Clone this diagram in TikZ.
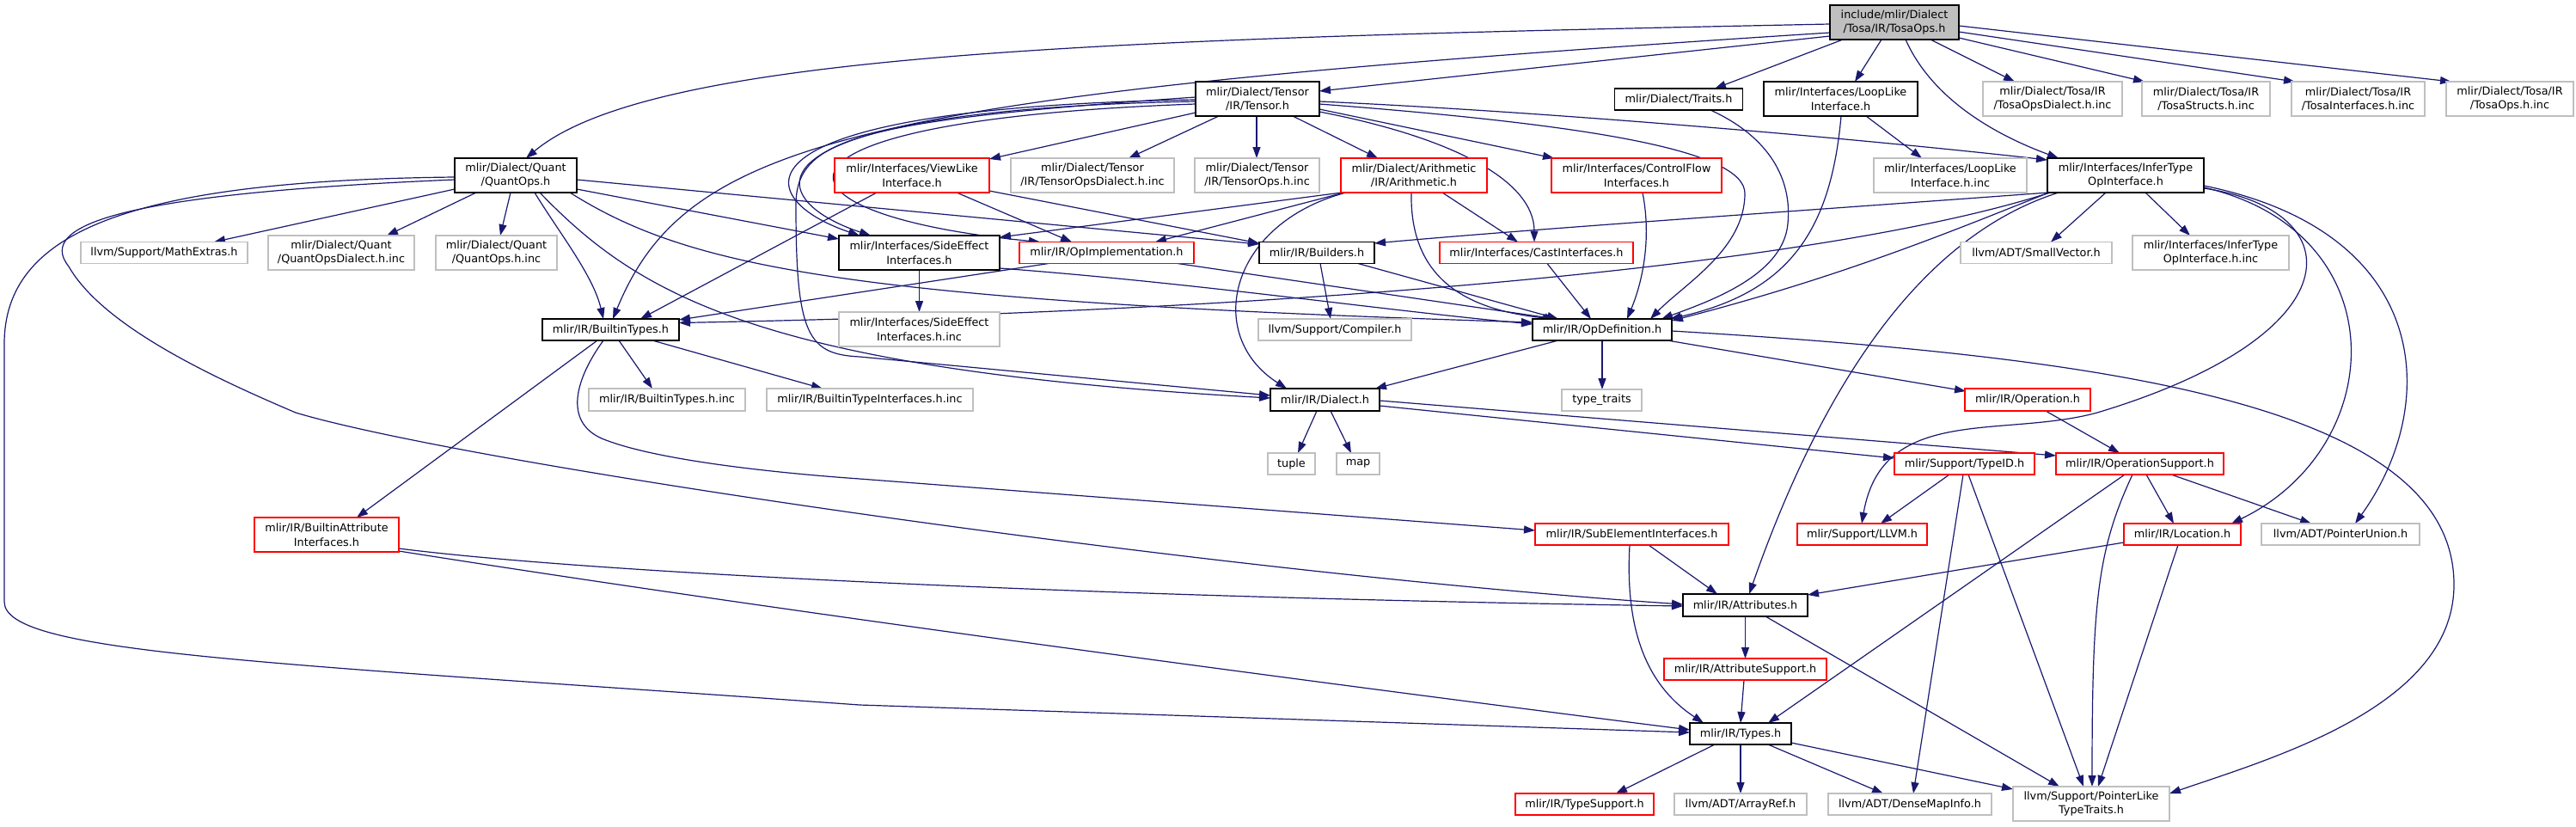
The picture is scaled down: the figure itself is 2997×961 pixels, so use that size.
\documentclass[tikz,border=0pt]{standalone}
\usepackage{fontspec}
\newfontfamily\dvfont{DejaVu Sans}
\usetikzlibrary{arrows.meta,calc}
\definecolor{ecol}{HTML}{191970}
\definecolor{gborder}{HTML}{BFBFBF}
\definecolor{rborder}{HTML}{FF0000}
\pgfdeclarelayer{bg}
\pgfsetlayers{bg,main}
\tikzset{
  base/.style={fill=white, line width=1.3pt, inner sep=0pt, align=center, font={\dvfont\fontsize{12.8}{16.5}\selectfont}},
  nb/.style={base, draw=black},
  rb/.style={base, draw=rborder},
  gb/.style={base, draw=gborder},
  rootbox/.style={base, draw=black, fill=gborder},
  edge/.style={draw=ecol, line width=1.2pt, line join=round, -{Triangle[length=13pt,width=9pt,fill=ecol]}}
}
\newcommand\mynode[7]{\node[#2,minimum width=#5pt,minimum height=#6pt] (#1) at (#3,#4) {#7};}
\begin{document}
\begin{tikzpicture}[x=1pt,y=-1pt]
\useasboundingbox (0,0) rectangle (2997,961);
% nodes
\mynode{root}{rootbox}{2204}{26}{150}{40}{include/mlir/Dialect\\/Tosa/IR/TosaOps.h}
\mynode{quant}{nb}{600}{204}{142}{40}{mlir/Dialect/Quant\\/QuantOps.h}
\mynode{tensor}{nb}{1463}{115}{144}{40}{mlir/Dialect/Tensor\\/IR/Tensor.h}
\mynode{traits}{nb}{1953}{115.5}{149}{25}{mlir/Dialect/Traits.h}
\mynode{looplike}{nb}{2141.5}{115}{179}{40}{mlir/Interfaces/LoopLike\\Interface.h}
\mynode{tosadialect}{gb}{2388}{115}{162}{40}{mlir/Dialect/Tosa/IR\\/TosaOpsDialect.h.inc}
\mynode{tosastructs}{gb}{2566.5}{115}{149}{40}{mlir/Dialect/Tosa/IR\\/TosaStructs.h.inc}
\mynode{tosaintf}{gb}{2743.5}{115}{155}{40}{mlir/Dialect/Tosa/IR\\/TosaInterfaces.h.inc}
\mynode{tosaopsinc}{gb}{2920}{115}{148}{40}{mlir/Dialect/Tosa/IR\\/TosaOps.h.inc}
\mynode{mathextras}{gb}{191}{294}{194}{25}{llvm/Support/MathExtras.h}
\mynode{quantdialect}{gb}{397}{294}{170}{40}{mlir/Dialect/Quant\\/QuantOpsDialect.h.inc}
\mynode{quantinc}{gb}{577.5}{294}{141}{40}{mlir/Dialect/Quant\\/QuantOps.h.inc}
\mynode{viewlike}{rb}{1061}{204}{180}{40}{mlir/Interfaces/ViewLike\\Interface.h}
\mynode{tensordialect}{gb}{1271}{204}{190}{40}{mlir/Dialect/Tensor\\/IR/TensorOpsDialect.h.inc}
\mynode{tensorinc}{gb}{1462.5}{204}{145}{40}{mlir/Dialect/Tensor\\/IR/TensorOps.h.inc}
\mynode{arith}{rb}{1645}{204}{170}{40}{mlir/Dialect/Arithmetic\\/IR/Arithmetic.h}
\mynode{controlflow}{rb}{1904}{204}{198}{40}{mlir/Interfaces/ControlFlow\\Interfaces.h}
\mynode{looplikeinc}{gb}{2269}{204}{178}{40}{mlir/Interfaces/LoopLike\\Interface.h.inc}
\mynode{infertype}{nb}{2473}{204}{182}{40}{mlir/Interfaces/InferType\\OpInterface.h}
\mynode{sideeffect}{nb}{1069.5}{294}{187}{40}{mlir/Interfaces/SideEffect\\Interfaces.h}
\mynode{opimpl}{rb}{1287.5}{294}{203}{25}{mlir/IR/OpImplementation.h}
\mynode{builders}{nb}{1532}{294}{134}{25}{mlir/IR/Builders.h}
\mynode{cast}{rb}{1787.5}{294}{225}{25}{mlir/Interfaces/CastInterfaces.h}
\mynode{smallvector}{gb}{2369}{294}{176}{25}{llvm/ADT/SmallVector.h}
\mynode{infertypeinc}{gb}{2572}{294}{182}{40}{mlir/Interfaces/InferType\\OpInterface.h.inc}
\mynode{builtintypes}{nb}{710.5}{383.5}{159}{25}{mlir/IR/BuiltinTypes.h}
\mynode{sideeffectinc}{gb}{1069.5}{383}{187}{40}{mlir/Interfaces/SideEffect\\Interfaces.h.inc}
\mynode{compiler}{gb}{1553}{383.5}{178}{25}{llvm/Support/Compiler.h}
\mynode{opdef}{nb}{1864}{383.5}{162}{25}{mlir/IR/OpDefinition.h}
\mynode{builtintypesinc}{gb}{776}{465}{182}{26}{mlir/IR/BuiltinTypes.h.inc}
\mynode{builtintypeintfinc}{gb}{1012}{465}{240}{26}{mlir/IR/BuiltinTypeInterfaces.h.inc}
\mynode{dialect}{nb}{1541.5}{465}{127}{26}{mlir/IR/Dialect.h}
\mynode{typetraits}{gb}{1863.5}{465.5}{93}{25}{type\_traits}
\mynode{operation}{rb}{2359}{465}{146}{26}{mlir/IR/Operation.h}
\mynode{tuple}{gb}{1502.5}{539.5}{55}{25}{tuple}
\mynode{map}{gb}{1580}{539.5}{50}{25}{map}
\mynode{typeid}{rb}{2285.5}{539.5}{163}{25}{mlir/Support/TypeID.h}
\mynode{opsupport}{rb}{2489.5}{539.5}{195}{25}{mlir/IR/OperationSupport.h}
\mynode{builtinattr}{rb}{380}{622}{168}{40}{mlir/IR/BuiltinAttribute\\Interfaces.h}
\mynode{subelement}{rb}{1898.5}{621.5}{225}{25}{mlir/IR/SubElementInterfaces.h}
\mynode{llvm}{rb}{2166.5}{621.5}{151}{25}{mlir/Support/LLVM.h}
\mynode{location}{rb}{2539}{621.5}{136}{25}{mlir/IR/Location.h}
\mynode{pointerunion}{gb}{2723}{621.5}{184}{25}{llvm/ADT/PointerUnion.h}
\mynode{attributes}{nb}{2030.5}{704}{145}{26}{mlir/IR/Attributes.h}
\mynode{attrsupport}{rb}{2030.5}{778.5}{189}{25}{mlir/IR/AttributeSupport.h}
\mynode{types}{nb}{2025}{853.5}{118}{25}{mlir/IR/Types.h}
\mynode{typesupport}{rb}{1843.5}{935.5}{161}{25}{mlir/IR/TypeSupport.h}
\mynode{arrayref}{gb}{2025}{935.5}{154}{25}{llvm/ADT/ArrayRef.h}
\mynode{densemap}{gb}{2222}{935.5}{190}{25}{llvm/ADT/DenseMapInfo.h}
\mynode{ptrlike}{gb}{2433}{935}{182}{40}{llvm/Support/PointerLike\\TypeTraits.h}
% edges
\begin{pgfonlayer}{bg}
\fill[white] (0,0) rectangle (2997,961);
% root
\draw[edge] ($(root.center)+(-75,2)$) .. controls (1300,45) and (760,60) .. ($(quant.center)+(12,-20)$);
\draw[edge] ($(root.center)+(-75,12)$) .. controls (1000,110) and (800,160) .. ($(builtintypes.center)+(2.5,-12.5)$);
\draw[edge] ($(root.center)+(-75,16)$) -- ($(tensor.center)+(72,-9)$);
\draw[edge] ($(root.center)+(-60,20)$) -- ($(traits.center)+(42,-12.5)$);
\draw[edge] ($(root.center)+(-15,20)$) -- ($(looplike.center)+(16.5,-20)$);
\draw[edge] ($(root.center)+(13,20)$) .. controls (2250,120) and (2330,160) .. ($(infertype.center)+(-78,-20)$);
\draw[edge] ($(root.center)+(42,20)$) -- ($(tosadialect.center)+(-44,-20)$);
\draw[edge] ($(root.center)+(75,18)$) -- ($(tosastructs.center)+(-71.5,-20)$);
\draw[edge] ($(root.center)+(75,11)$) -- ($(tosaintf.center)+(-73.5,-20)$);
\draw[edge] ($(root.center)+(75,4)$) -- ($(tosaopsinc.center)+(-68,-20)$);
% quant
\draw[edge] ($(quant.center)+(-71,16)$) -- ($(mathextras.center)+(58,-12.5)$);
\draw[edge] ($(quant.center)+(-46,20)$) -- ($(quantdialect.center)+(53,-20)$);
\draw[edge] ($(quant.center)+(-6,20)$) -- ($(quantinc.center)+(4.5,-20)$);
\draw[edge] ($(quant.center)+(22,20)$) .. controls (650,270) and (690,320) .. ($(builtintypes.center)+(-8.5,-12.5)$);
\draw[edge] ($(quant.center)+(28,20)$) .. controls (740,340) and (880,430) .. ($(dialect.center)+(-63.5,-2)$);
\draw[edge] ($(quant.center)+(71,16)$) -- ($(sideeffect.center)+(-93.5,-16)$);
\draw[edge] ($(quant.center)+(71,5)$) -- ($(builders.center)+(-67,-10)$);
\draw[edge] ($(quant.center)+(63,20)$) .. controls (800,310) and (980,350) .. ($(opdef.center)+(-81,-8.5)$);
\draw[edge] ($(quant.center)+(-71,5)$) .. controls (150,225) and (40,260) .. (80,310) .. controls (120,380) and (250,440) .. (344,480) .. controls (544,540) and (1400,665) .. ($(attributes.center)+(-72.5,-1)$);
\draw[edge] ($(quant.center)+(-71,2)$) .. controls (150,210) and (5,270) .. (5,400) -- (5,700) .. controls (5,760) and (300,770) .. (1000,820) -- ($(types.center)+(-59,-1.5)$);
% viewlike
\draw[edge] ($(viewlike.center)+(-41,20)$) -- ($(builtintypes.center)+(34.5,-12.5)$);
\draw[edge] ($(viewlike.center)+(52,20)$) -- ($(opimpl.center)+(-40.5,-12.5)$);
\draw[edge] ($(viewlike.center)+(90,18)$) -- ($(builders.center)+(-67,-11)$);
% tensor
\draw[edge] ($(tensor.center)+(-72,16)$) -- ($(viewlike.center)+(90,-19)$);
\draw[edge] ($(tensor.center)+(-45,20)$) -- ($(tensordialect.center)+(42,-20)$);
\draw[edge] ($(tensor.center)+(-1,20)$) -- ($(tensorinc.center)+(-0.5,-20)$);
\draw[edge] ($(tensor.center)+(41,20)$) -- ($(arith.center)+(-42,-20)$);
\draw[edge] ($(tensor.center)+(72,12)$) -- ($(controlflow.center)+(-96,-20)$);
\draw[edge] ($(tensor.center)+(72,15)$) .. controls (1690,160) and (1785,210) .. ($(cast.center)+(-2.5,-12.5)$);
\draw[edge] ($(tensor.center)+(72,3)$) .. controls (1800,130) and (2150,160) .. ($(infertype.center)+(-91,-18)$);
\draw[edge] ($(tensor.center)+(72,6)$) .. controls (1850,145) and (2030,175) .. (2030,225) .. controls (2030,290) and (1960,330) .. ($(opdef.center)+(56,-12.5)$);
\draw[edge] ($(tensor.center)+(-72,-2)$) .. controls (1000,140) and (925,160) .. (926,240) .. controls (926,390) and (940,412) .. (1000,415) -- ($(dialect.center)+(-63.5,-5)$);
\draw[edge] ($(tensor.center)+(-72,1)$) .. controls (840,125) and (870,230) .. ($(sideeffect.center)+(-69.5,-20)$);
\draw[edge] ($(tensor.center)+(-72,3)$) .. controls (850,128) and (885,232) .. ($(sideeffect.center)+(-56.5,-20)$);
\draw[edge] ($(tensor.center)+(-72,6)$) .. controls (850,140) and (880,250) .. ($(opimpl.center)+(-77.5,-12.5)$);
% arith
\draw[edge] ($(arith.center)+(-84,20)$) -- ($(sideeffect.center)+(93.5,-18)$);
\draw[edge] ($(arith.center)+(-81,20)$) -- ($(opimpl.center)+(56.5,-12.5)$);
\draw[edge] ($(arith.center)+(-79,20)$) .. controls (1430,260) and (1400,390) .. ($(dialect.center)+(-44.5,-13)$);
\draw[edge] ($(arith.center)+(-3,20)$) .. controls (1640,320) and (1700,360) .. ($(opdef.center)+(-56,-12.5)$);
\draw[edge] ($(arith.center)+(33,20)$) -- ($(cast.center)+(-21.5,-12.5)$);
% controlflow, traits, looplike
\draw[edge] ($(controlflow.center)+(7,20)$) .. controls (1922,280) and (1910,330) .. ($(opdef.center)+(29,-12.5)$);
\draw[edge] ($(traits.center)+(37,12.5)$) .. controls (2060,160) and (2085,210) .. (2080,260) .. controls (2075,320) and (1990,350) .. ($(opdef.center)+(69,-12.5)$);
\draw[edge] ($(looplike.center)+(29.5,20)$) -- ($(looplikeinc.center)+(-33,-20)$);
\draw[edge] ($(looplike.center)+(0.5,20)$) .. controls (2130,270) and (2080,340) .. ($(opdef.center)+(79,-12.5)$);
% infertype
\draw[edge] ($(infertype.center)+(-23,20)$) -- ($(smallvector.center)+(17,-12.5)$);
\draw[edge] ($(infertype.center)+(23,20)$) -- ($(infertypeinc.center)+(-24,-20)$);
\draw[edge] ($(infertype.center)+(-90,20)$) .. controls (2100,245) and (1800,265) .. ($(builders.center)+(67,-11)$);
\draw[edge] ($(infertype.center)+(-88,20)$) .. controls (2150,300) and (1600,360) .. ($(builtintypes.center)+(79.5,-8)$);
\draw[edge] ($(infertype.center)+(-89,20)$) .. controls (2280,265) and (2150,320) .. ($(opdef.center)+(81,-10.5)$);
\draw[edge] ($(infertype.center)+(-78,20)$) .. controls (2250,270) and (2130,420) .. ($(attributes.center)+(4.5,-13)$);
\draw[edge] ($(infertype.center)+(91,15)$) .. controls (2740,245) and (2740,390) .. (2440,480) .. controls (2330,510) and (2190,470) .. ($(llvm.center)+(-0.5,-12.5)$);
\draw[edge] ($(infertype.center)+(91,14)$) .. controls (2790,270) and (2780,520) .. ($(location.center)+(57,-12.5)$);
\draw[edge] ($(infertype.center)+(91,12)$) .. controls (2830,270) and (2840,470) .. ($(pointerunion.center)+(17,-12.5)$);
% opdef
\draw[edge] ($(opdef.center)+(-51,12.5)$) -- ($(dialect.center)+(58.5,-13)$);
\draw[edge] ($(opdef.center)+(0,12.5)$) -- ($(typetraits.center)+(0.5,-12.5)$);
\draw[edge] ($(opdef.center)+(76,12.5)$) -- ($(operation.center)+(-72,-10)$);
\draw[edge] ($(opdef.center)+(81,1.5)$) .. controls (2450,415) and (2855,470) .. (2855,680) .. controls (2855,820) and (2650,880) .. ($(ptrlike.center)+(91,-12)$);
% dialect
\draw[edge] ($(dialect.center)+(-9.5,13)$) -- ($(tuple.center)+(7.5,-12.5)$);
\draw[edge] ($(dialect.center)+(6.5,13)$) -- ($(map.center)+(-8,-12.5)$);
\draw[edge] ($(dialect.center)+(63.5,7)$) -- ($(typeid.center)+(-81.5,-6.5)$);
\draw[edge] ($(dialect.center)+(63.5,1)$) -- ($(opsupport.center)+(-97.5,-9.5)$);
% operation, opsupport
\draw[edge] ($(operation.center)+(21,13)$) -- ($(opsupport.center)+(-23.5,-12.5)$);
\draw[edge] ($(opsupport.center)+(7.5,12.5)$) -- ($(location.center)+(-10,-12.5)$);
\draw[edge] ($(opsupport.center)+(36.5,12.5)$) -- ($(pointerunion.center)+(-34,-12.5)$);
\draw[edge] ($(opsupport.center)+(-17.5,12.5)$) -- ($(types.center)+(32,-12.5)$);
\draw[edge] ($(opsupport.center)+(-8.5,12.5)$) .. controls (2440,640) and (2434,700) .. ($(ptrlike.center)+(1,-20)$);
% typeid
\draw[edge] ($(typeid.center)+(-17.5,12.5)$) -- ($(llvm.center)+(21.5,-12.5)$);
\draw[edge] ($(typeid.center)+(-1.5,12.5)$) -- ($(densemap.center)+(4,-12.5)$);
\draw[edge] ($(typeid.center)+(4.5,12.5)$) -- ($(ptrlike.center)+(-9,-20)$);
% location
\draw[edge] ($(location.center)+(-68,9.5)$) -- ($(attributes.center)+(72.5,-12)$);
\draw[edge] ($(location.center)+(-5,12.5)$) -- ($(ptrlike.center)+(8,-20)$);
% attributes
\draw[edge] ($(attributes.center)+(0,13)$) -- ($(attrsupport.center)+(0,-12.5)$);
\draw[edge] ($(attributes.center)+(23.5,13)$) -- ($(ptrlike.center)+(-37,-20)$);
\draw[edge] ($(attrsupport.center)+(-1.5,12.5)$) -- ($(types.center)+(0,-12.5)$);
% types
\draw[edge] ($(types.center)+(-30,12.5)$) -- ($(typesupport.center)+(36.5,-12.5)$);
\draw[edge] ($(types.center)+(0,12.5)$) -- ($(arrayref.center)+(0,-12.5)$);
\draw[edge] ($(types.center)+(32,12.5)$) -- ($(densemap.center)+(-31,-12.5)$);
\draw[edge] ($(types.center)+(59,10.5)$) -- ($(ptrlike.center)+(-91,-17)$);
% builtintypes
\draw[edge] ($(builtintypes.center)+(-15.5,12.5)$) -- ($(builtinattr.center)+(35,-20)$);
\draw[edge] ($(builtintypes.center)+(-8.5,12.5)$) .. controls (670,440) and (655,490) .. (700,510) .. controls (760,535) and (900,550) .. (1000,557) -- ($(subelement.center)+(-112.5,-4.5)$);
\draw[edge] ($(builtintypes.center)+(9.5,12.5)$) -- ($(builtintypesinc.center)+(-17,-13)$);
\draw[edge] ($(builtintypes.center)+(48.5,12.5)$) -- ($(builtintypeintfinc.center)+(-55,-13)$);
% builtinattr
\draw[edge] ($(builtinattr.center)+(84,16)$) .. controls (700,668) and (1300,695) .. ($(attributes.center)+(-72.5,1)$);
\draw[edge] ($(builtinattr.center)+(84,19)$) .. controls (900,710) and (1500,790) .. ($(types.center)+(-59,-4.5)$);
% subelement
\draw[edge] ($(subelement.center)+(19.5,12.5)$) -- ($(attributes.center)+(-32.5,-13)$);
\draw[edge] ($(subelement.center)+(-2.5,12.5)$) .. controls (1890,740) and (1920,800) .. ($(types.center)+(-43,-12.5)$);
% sideeffect, opimpl, builders, cast
\draw[edge] ($(sideeffect.center)+(0,20)$) -- ($(sideeffectinc.center)+(0,-20)$);
\draw[edge] ($(sideeffect.center)+(93.5,18)$) .. controls (1400,330) and (1600,360) .. ($(opdef.center)+(-81,-6.5)$);
\draw[edge] ($(opimpl.center)+(82.5,12.5)$) -- ($(opdef.center)+(-54,-12.5)$);
\draw[edge] ($(opimpl.center)+(-67.5,12.5)$) -- ($(builtintypes.center)+(79.5,-11.5)$);
\draw[edge] ($(builders.center)+(4,12.5)$) -- ($(compiler.center)+(-5,-12.5)$);
\draw[edge] ($(builders.center)+(48,12.5)$) -- ($(opdef.center)+(-51,-12.5)$);
\draw[edge] ($(cast.center)+(12.5,12.5)$) -- ($(opdef.center)+(-13,-12.5)$);
\end{pgfonlayer}
\end{tikzpicture}
\end{document}
